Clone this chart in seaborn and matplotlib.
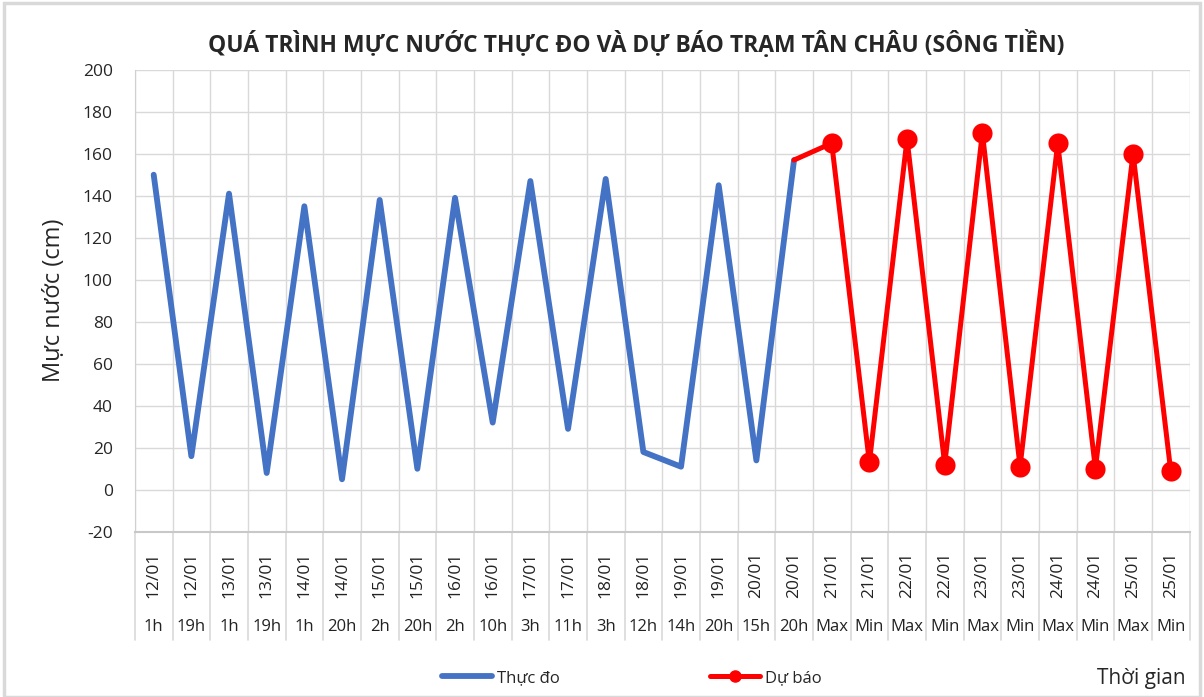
import numpy as np
import pandas as pd
import seaborn as sns
import matplotlib.pyplot as plt
from matplotlib.patches import Rectangle
from matplotlib.lines import Line2D

# Category labels (two levels: date / hour)
dates = ['12/01', '12/01', '13/01', '13/01', '14/01', '14/01', '15/01', '15/01',
         '16/01', '16/01', '17/01', '17/01', '18/01', '18/01', '19/01', '19/01',
         '20/01', '20/01', '21/01', '21/01', '22/01', '22/01', '23/01', '23/01',
         '24/01', '24/01', '25/01', '25/01']
hours = ['1h', '19h', '1h', '19h', '1h', '20h', '2h', '20h', '2h', '10h', '3h', '11h',
         '3h', '12h', '14h', '20h', '15h', '20h', 'Max', 'Min', 'Max', 'Min',
         'Max', 'Min', 'Max', 'Min', 'Max', 'Min']

# Measured water level (cm)
thuc_do = [150, 16, 141, 8, 135, 5, 138, 10, 139, 32, 147, 29, 148, 18, 11, 145, 14, 157]
# Forecast (cm), starting from the last measured point
du_bao = [157, 165, 13, 167, 12, 170, 11, 165, 10, 160, 9]

n_obs = len(thuc_do)
obs = pd.DataFrame({'x': np.arange(n_obs), 'y': thuc_do})
fc = pd.DataFrame({'x': np.arange(n_obs - 1, n_obs - 1 + len(du_bao)), 'y': du_bao})

sns.set_style('white')
plt.rcParams['font.family'] = ['Open Sans', 'DejaVu Sans']
plt.rcParams['axes.unicode_minus'] = False

fig = plt.figure(figsize=(12.04, 6.97), dpi=100)
ax = fig.add_axes([0.112, 0.237, 0.876, 0.663])

blue = '#4472c4'
red = '#ff0000'
sns.lineplot(data=obs, x='x', y='y', ax=ax, color=blue, lw=4.2,
             solid_capstyle='round', legend=False)
sns.lineplot(data=fc, x='x', y='y', ax=ax, color=red, lw=3.6,
             marker='o', markersize=14.5, markeredgewidth=0,
             markevery=list(range(1, len(du_bao))), legend=False)

ax.set_xlim(-0.5, len(dates) - 0.5)
ax.set_ylim(-20, 200)
ax.set_yticks(np.arange(-20, 201, 20))
ax.set_xticks(np.arange(len(dates)))
ax.set_xticklabels([])
ax.set_xticks(np.arange(-0.5, len(dates), 0.5), minor=True)
ax.tick_params(axis='x', which='both', length=0)
ax.tick_params(axis='y', length=0, labelsize=12.5, pad=16)
ax.grid(True, axis='y', color='#d9d9d9', lw=1)
ax.grid(True, axis='x', which='minor', color='#d9d9d9', lw=1)
ax.set_axisbelow(True)
for s in ['top', 'right']:
    ax.spines[s].set_visible(False)
ax.spines['left'].set_color('#d0d0d0')
ax.spines['bottom'].set_color('#c8c8c8')
ax.spines['bottom'].set_linewidth(1.5)

ax.set_xlabel('')
ax.set_ylabel('Mực nước (cm)', fontsize=17, labelpad=12)

# two-level category labels below the axis
trans = ax.get_xaxis_transform()
for i, (d, h) in enumerate(zip(dates, hours)):
    ax.text(i, -0.093, d, transform=trans, rotation=90, ha='center', va='center',
            fontsize=12.5, color='#222222')
    ax.text(i, -0.205, h, transform=trans, ha='center', va='center',
            fontsize=12, color='#222222')
for b in np.arange(-0.5, len(dates), 1.0):
    ax.plot([b, b], [0, -0.234], transform=trans, color='#d9d9d9', lw=1.2,
            clip_on=False)

fig.suptitle('QUÁ TRÌNH MỰC NƯỚC THỰC ĐO VÀ DỰ BÁO TRẠM TÂN CHÂU (SÔNG TIỀN)',
             x=0.528, y=0.957, fontsize=16.5, fontweight='bold')

handles = [Line2D([], [], color=blue, lw=4.2, solid_capstyle='round'),
           Line2D([], [], color=red, lw=3.6, marker='o', markersize=8)]
fig.legend(handles, ['Thực đo', 'Dự báo'], loc='center',
           bbox_to_anchor=(0.525, 0.027), ncol=2, frameon=False,
           fontsize=12, handlelength=3.0, handletextpad=0.3, columnspacing=9)
fig.text(0.985, 0.027, 'Thời gian', ha='right', va='center', fontsize=15)

fig.patches.append(Rectangle((0.003, 0.0), 0.994, 0.995, transform=fig.transFigure,
                             fill=False, edgecolor='#d9d9d9', lw=2.5))

fig.savefig('out.png', dpi=100)
